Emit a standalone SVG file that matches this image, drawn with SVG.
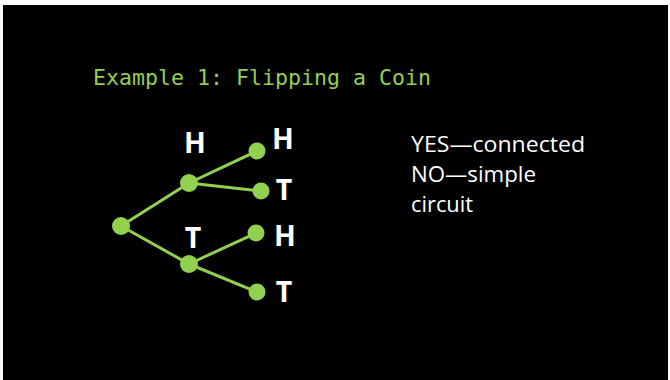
<svg xmlns="http://www.w3.org/2000/svg" width="670" height="380" viewBox="0 0 670 380">
<style>
.edge{stroke:#92d050;stroke-width:3;fill:none;stroke-linecap:round}
.dot{fill:#92d050}
.lbl{font-family:"Open Sans","Liberation Sans",sans-serif;font-weight:bold;font-size:28.5px;fill:#ffffff;text-anchor:middle}
.title{font-family:"DejaVu Sans Mono","Liberation Mono",monospace;font-size:21.5px;fill:#92d050}
.note{font-family:"Open Sans","Liberation Sans",sans-serif;font-size:21.5px;fill:#ffffff}
</style>
<rect x="0" y="0" width="670" height="380" fill="#ffffff"/>
<rect x="3" y="5" width="665" height="375" fill="#000000"/>
<text class="title" x="93" y="85" textLength="338" lengthAdjust="spacingAndGlyphs">Example 1: Flipping a Coin</text>
<g id="connectors">
<line class="edge" x1="121" y1="226" x2="189" y2="183"/>
<line class="edge" x1="121" y1="226" x2="189" y2="264"/>
<line class="edge" x1="189" y1="183" x2="257" y2="151"/>
<line class="edge" x1="189" y1="183" x2="261" y2="191"/>
<line class="edge" x1="189" y1="264" x2="256" y2="233"/>
<line class="edge" x1="189" y1="264" x2="257" y2="292"/>
</g>
<g id="root"><circle class="dot" cx="121" cy="226" r="9"/></g>
<g id="midH"><circle class="dot" cx="189" cy="183" r="9"/><text class="lbl" x="195" y="153">H</text></g>
<g id="midT"><circle class="dot" cx="189" cy="264" r="9"/><text class="lbl" x="193" y="248">T</text></g>
<g id="leafHH"><circle class="dot" cx="257" cy="151" r="8.5"/><text class="lbl" x="283" y="149">H</text></g>
<g id="leafHT"><circle class="dot" cx="261" cy="191" r="8.5"/><text class="lbl" x="284" y="200">T</text></g>
<g id="leafTH"><circle class="dot" cx="256" cy="233" r="8.5"/><text class="lbl" x="285" y="246">H</text></g>
<g id="leafTT"><circle class="dot" cx="257" cy="292" r="8.5"/><text class="lbl" x="284" y="302">T</text></g>
<g id="note">
<text class="note" x="411" y="152" textLength="174" lengthAdjust="spacingAndGlyphs">YES—connected</text>
<text class="note" x="411" y="182" textLength="125" lengthAdjust="spacingAndGlyphs">NO—simple</text>
<text class="note" x="411" y="212" textLength="62" lengthAdjust="spacingAndGlyphs">circuit</text>
</g>
</svg>
